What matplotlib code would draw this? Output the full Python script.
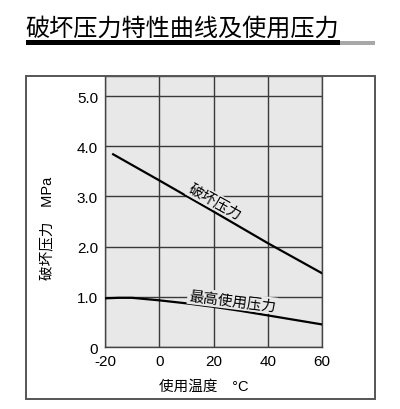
import matplotlib
matplotlib.use("Agg")
import matplotlib.pyplot as plt
from matplotlib.patches import Rectangle

plt.rcParams["font.family"] = ["Liberation Sans", "Noto Sans CJK SC"]
plt.rcParams["axes.unicode_minus"] = False

# 破坏压力 (burst pressure) vs temperature
burst_temp = [-17, 0, 20, 40, 60]
burst_mpa = [3.84, 3.32, 2.70, 2.07, 1.47]

# 最高使用压力 (max working pressure) vs temperature
work_temp = [-20, -15, -10, 0, 10, 20, 30, 40, 50, 60]
work_mpa = [0.97, 0.98, 0.98, 0.93, 0.87, 0.80, 0.72, 0.63, 0.54, 0.45]

x_ticks = [-20, 0, 20, 40, 60]
y_ticks = [0, 1, 2, 3, 4, 5]
y_labels = ["0", "1.0", "2.0", "3.0", "4.0", "5.0"]

title = "破坏压力特性曲线及使用压力"
grid_col = "#3a3a3a"
bg_col = "#e8e8e8"

fig = plt.figure(figsize=(4.0, 4.1), dpi=100)

# outer frame
fig.patches.append(Rectangle((0.065, 0.024), 0.8725, 0.788, transform=fig.transFigure,
                             fill=False, edgecolor="#555555", linewidth=1.4))

# title + underline bars
fig.text(0.063, 0.93, title, fontsize=17.4, ha="left", va="center",
         family=["Noto Sans CJK SC"])
fig.patches.append(Rectangle((0.064, 0.888), 0.786, 0.012, transform=fig.transFigure,
                             facecolor="black", edgecolor="none"))
fig.patches.append(Rectangle((0.85, 0.888), 0.087, 0.01, transform=fig.transFigure,
                             facecolor="#a8a8a8", edgecolor="none"))

ax = fig.add_axes([0.2625, 0.1512, 0.5425, 0.661])
ax.set_facecolor(bg_col)
ax.set_xlim(-20, 60)
ax.set_ylim(0, 5.4)
ax.set_xticks(x_ticks)
ax.set_yticks(y_ticks)
ax.set_yticklabels(y_labels)
ax.tick_params(length=0, labelsize=11, pad=5)
ax.grid(True, color=grid_col, linewidth=1.0)
ax.set_axisbelow(True)
for s in ax.spines.values():
    s.set_color("#444444")
    s.set_linewidth(1.0)

ax.plot(burst_temp, burst_mpa, color="black", linewidth=1.6, zorder=3)
ax.plot(work_temp, work_mpa, color="black", linewidth=1.6, zorder=3)

ax.text(20.7, 2.9, "破坏压力", rotation=-29, fontsize=10.5, ha="center", va="center",
        family=["Noto Sans CJK SC"], zorder=4,
        bbox=dict(facecolor=bg_col, edgecolor="none", pad=1))
ax.text(27, 0.92, "最高使用压力", rotation=-7, fontsize=10.5, ha="center", va="center",
        family=["Noto Sans CJK SC"], zorder=4,
        bbox=dict(facecolor=bg_col, edgecolor="none", pad=1))

ax.set_xlabel("使用温度　°C", fontsize=10.5)
ax.set_ylabel("破坏压力　MPa", fontsize=10.5)
ax.xaxis.set_label_coords(0.456, -0.118)
ax.yaxis.set_label_coords(-0.235, 0.443)

plt.savefig("out.png", dpi=100)
